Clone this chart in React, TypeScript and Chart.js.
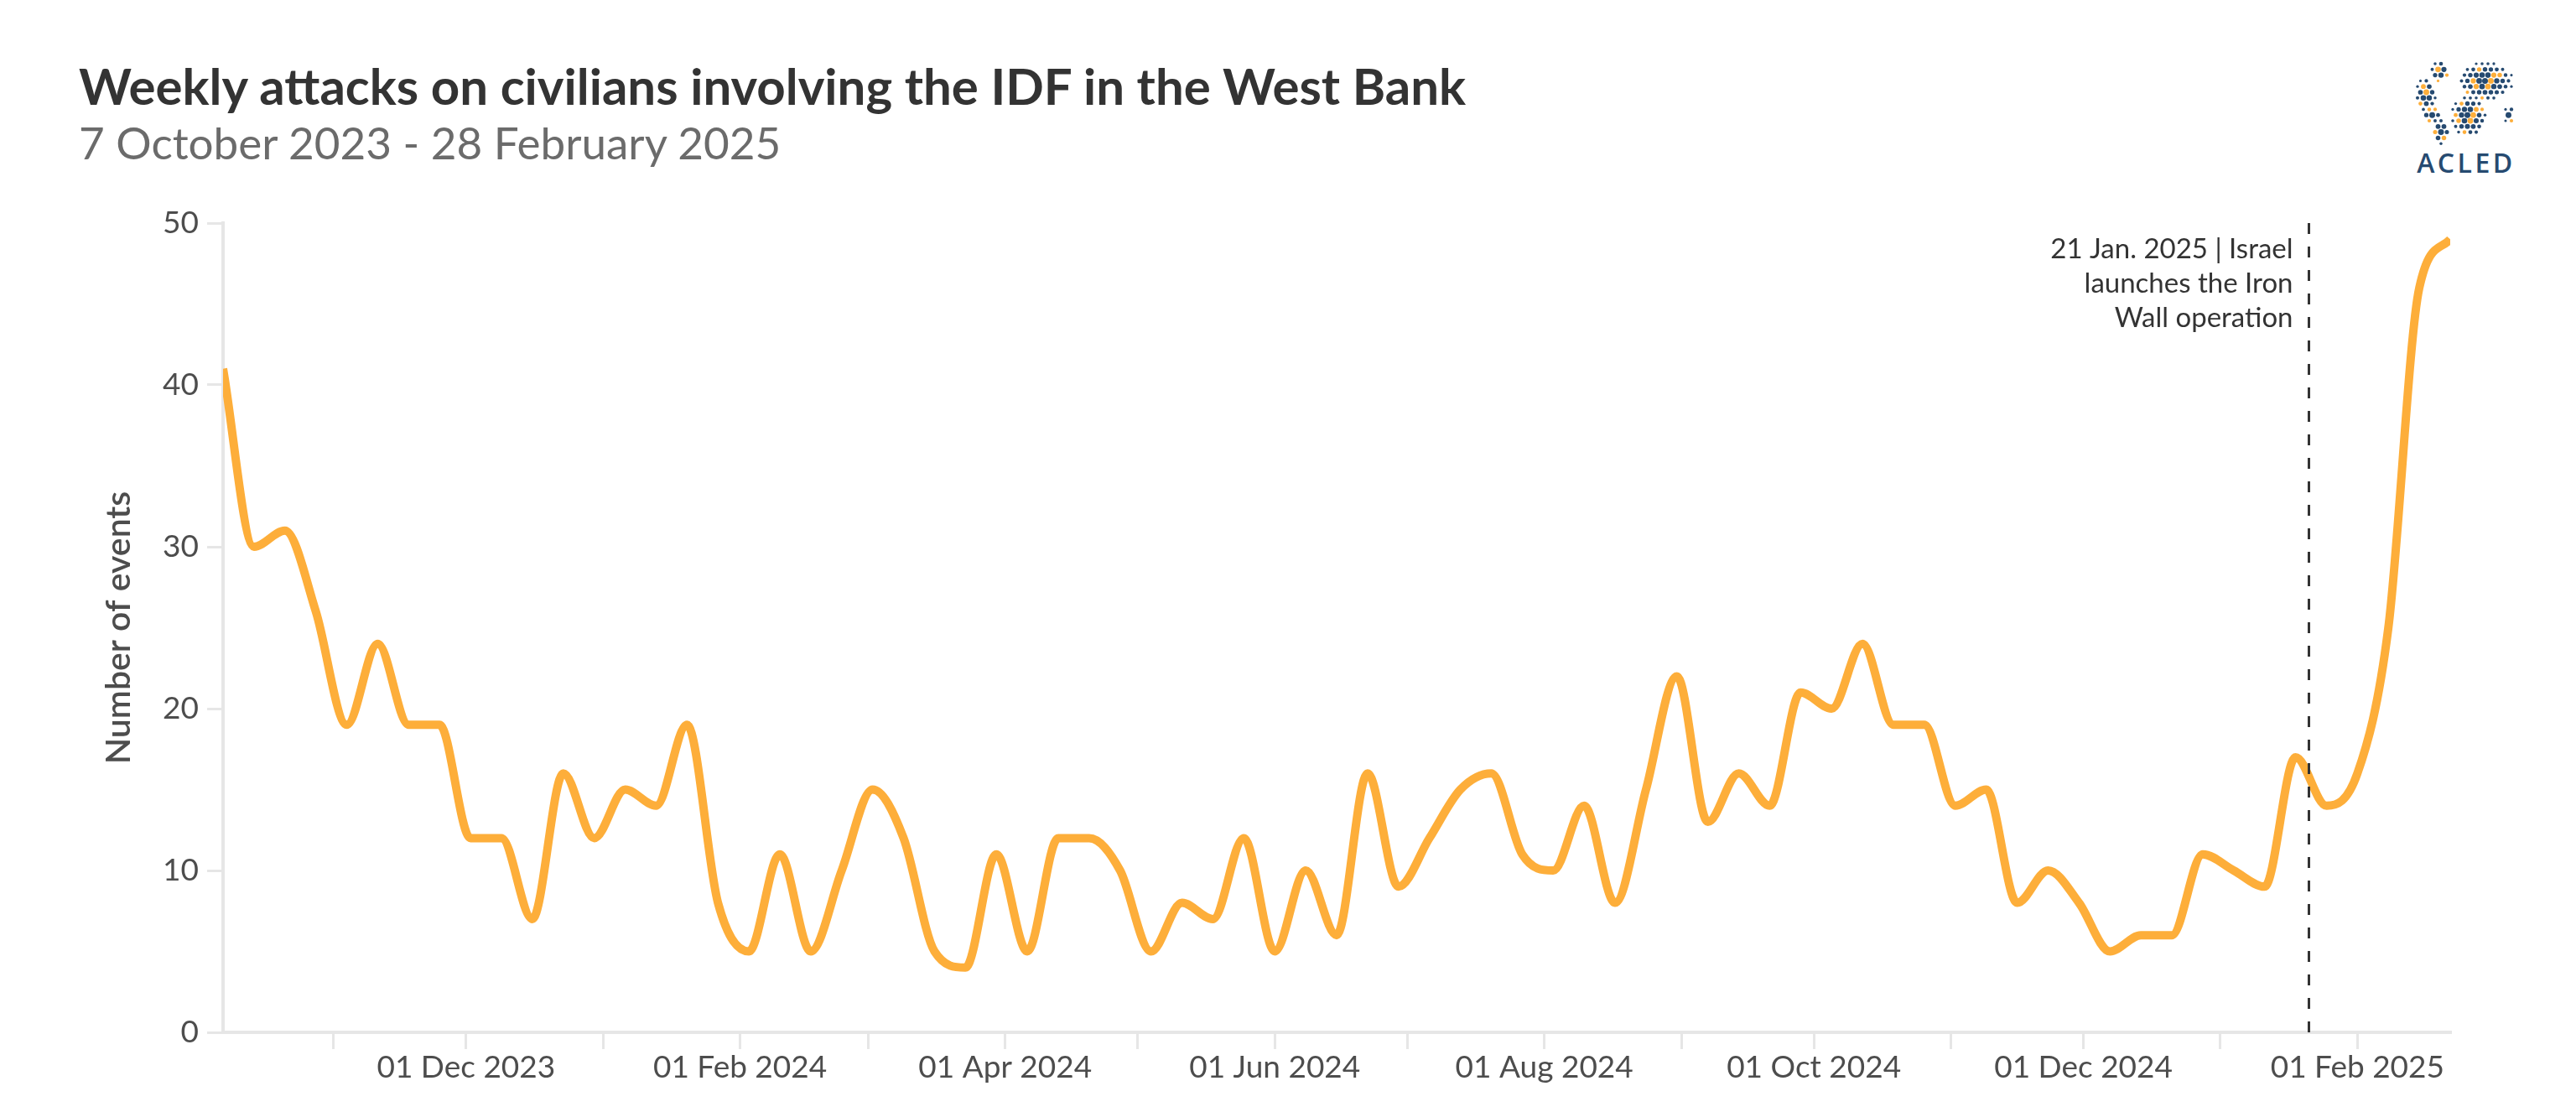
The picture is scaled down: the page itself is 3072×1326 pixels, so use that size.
import React, { useEffect, useRef } from 'react';
import { Chart, registerables } from 'chart.js';

Chart.register(...registerables);

// ---------- data ----------
const weekDates = [
  '2023-10-07', '2023-10-14', '2023-10-21', '2023-10-28', '2023-11-04', '2023-11-11', '2023-11-18', '2023-11-25',
  '2023-12-02', '2023-12-09', '2023-12-16', '2023-12-23', '2023-12-30', '2024-01-06', '2024-01-13', '2024-01-20',
  '2024-01-27', '2024-02-03', '2024-02-10', '2024-02-17', '2024-02-24', '2024-03-02', '2024-03-09', '2024-03-16',
  '2024-03-23', '2024-03-30', '2024-04-06', '2024-04-13', '2024-04-20', '2024-04-27', '2024-05-04', '2024-05-11',
  '2024-05-18', '2024-05-25', '2024-06-01', '2024-06-08', '2024-06-15', '2024-06-22', '2024-06-29', '2024-07-06',
  '2024-07-13', '2024-07-20', '2024-07-27', '2024-08-03', '2024-08-10', '2024-08-17', '2024-08-24', '2024-08-31',
  '2024-09-07', '2024-09-14', '2024-09-21', '2024-09-28', '2024-10-05', '2024-10-12', '2024-10-19', '2024-10-26',
  '2024-11-02', '2024-11-09', '2024-11-16', '2024-11-23', '2024-11-30', '2024-12-07', '2024-12-14', '2024-12-21',
  '2024-12-28', '2025-01-04', '2025-01-11', '2025-01-18', '2025-01-25', '2025-02-01', '2025-02-08', '2025-02-15',
  '2025-02-22',
];

const weeklyEvents = [
  41, 30, 31, 26, 19, 24, 19, 19,
  12, 12, 7, 16, 12, 15, 14, 19,
  8, 5, 11, 5, 10, 15, 12, 5,
  4, 11, 5, 12, 12, 10, 5, 8,
  7, 12, 5, 10, 6, 16, 9, 12,
  15, 16, 11, 10, 14, 8, 15, 22,
  13, 16, 14, 21, 20, 24, 19, 19,
  14, 15, 8, 10, 8, 5, 6, 6,
  11, 10, 9, 17, 14, 16, 25, 46,
  49,
];

const monthTicks = [
  '2023-11-01', '2023-12-01', '2024-01-01', '2024-02-01', '2024-03-01', '2024-04-01', '2024-05-01', '2024-06-01',
  '2024-07-01', '2024-08-01', '2024-09-01', '2024-10-01', '2024-11-01', '2024-12-01', '2025-01-01', '2025-02-01',
];
const monthTickLabels = [
  '', '01 Dec 2023', '', '01 Feb 2024', '', '01 Apr 2024', '', '01 Jun 2024',
  '', '01 Aug 2024', '', '01 Oct 2024', '', '01 Dec 2024', '', '01 Feb 2025',
];
const yTicks = [0, 10, 20, 30, 40, 50];

const eventDate = '2025-01-21';
const eventLabel = ['21 Jan. 2025 | Israel', 'launches the Iron', 'Wall operation'];

const titleText = 'Weekly attacks on civilians involving the IDF in the West Bank';
const subtitleText = '7 October 2023 - 28 February 2025';
const yTitle = 'Number of events';

// ---------- helpers ----------
const toTs = (s: string) => Date.parse(s + 'T00:00:00Z');
const LINE_COLOR = '#FDAE3A';
const AXIS_COLOR = '#e6e6e6';
const TICK_COLOR = '#4d4d4d';
const NAVY = '#264A70';

const eventPlugin = {
  id: 'eventPlugin',
  afterDatasetsDraw(chart: any) {
    const { ctx, chartArea, scales } = chart;
    const x = scales.x;
    const y = scales.y;
    const px = Math.round(x.getPixelForValue(toTs(eventDate))) + 0.5;
    ctx.save();
    ctx.strokeStyle = '#333333';
    ctx.lineWidth = 3;
    ctx.setLineDash([13, 15]);
    ctx.beginPath();
    ctx.moveTo(px, y.getPixelForValue(50));
    ctx.lineTo(px, y.getPixelForValue(0));
    ctx.stroke();
    ctx.setLineDash([]);
    ctx.font = '33px Lato';
    ctx.fillStyle = '#333333';
    ctx.textAlign = 'right';
    ctx.textBaseline = 'alphabetic';
    eventLabel.forEach((t, k) => {
      ctx.fillText(t, px - 19, chartArea.top + 42 + k * 41);
    });
    ctx.restore();
  },
};

// decorative logo: dotted globe silhouette
const logoShapes = [
  { cx: 30, cy: 12, rx: 11, ry: 12 },
  { cx: 13, cy: 40, rx: 12, ry: 20 },
  { cx: 20, cy: 64, rx: 10, ry: 9 },
  { cx: 31, cy: 84, rx: 10, ry: 15 },
  { cx: 84, cy: 24, rx: 33, ry: 23 },
  { cx: 64, cy: 66, rx: 21, ry: 25 },
  { cx: 112, cy: 64, rx: 5, ry: 12 },
];

function Logo() {
  const dots: any[] = [];
  for (let r = 0; r < 15; r++) {
    for (let c = 0; c < 17; c++) {
      const x = 3 + c * 7 + (r % 2) * 3.5;
      const y = 3 + r * 6.8;
      let best = 2;
      logoShapes.forEach((s) => {
        const e = ((x - s.cx) / s.rx) ** 2 + ((y - s.cy) / s.ry) ** 2;
        if (e < best) best = e;
      });
      if (best >= 1) continue;
      const orange = (r * 5 + c * 3) % 7 === 0 || (r * 2 + c) % 9 === 0;
      const rad = 1.5 + 2.0 * (1 - best);
      dots.push(
        <circle key={`${r}-${c}`} cx={x} cy={y} r={rad} fill={orange ? '#FDAE3A' : NAVY} />
      );
    }
  }
  return (
    <div style={{ position: 'absolute', left: 2880, top: 73, width: 118 }}>
      <svg width={118} height={102} viewBox="0 0 118 102">
        {dots}
      </svg>
      <div
        style={{
          position: 'absolute',
          left: 2,
          top: 104.6,
          width: 118,
          textAlign: 'center',
          fontFamily: '"Open Sans", sans-serif',
          fontWeight: 600,
          fontSize: 32,
          lineHeight: '32px',
          letterSpacing: 3.5,
          color: NAVY,
        }}
      >
        ACLED
      </div>
    </div>
  );
}

export default function App() {
  const canvasRef = useRef<HTMLCanvasElement | null>(null);

  useEffect(() => {
    const canvas = canvasRef.current;
    if (!canvas) return;
    const points = weekDates.map((d, i) => ({ x: toTs(d), y: weeklyEvents[i] }));
    const tickFont = { family: 'Lato', size: 37 };
    const chart = new Chart(canvas, {
      type: 'line',
      data: {
        datasets: [
          {
            data: points,
            borderColor: LINE_COLOR,
            borderWidth: 10,
            pointRadius: 0,
            pointHoverRadius: 0,
            fill: false,
            cubicInterpolationMode: 'monotone',
            borderCapStyle: 'butt',
            borderJoinStyle: 'round',
          } as any,
        ],
      },
      options: {
        responsive: false,
        animation: false,
        devicePixelRatio: 1,
        layout: { padding: { top: 266, right: 150, bottom: 0, left: 0 } },
        plugins: {
          legend: { display: false },
          tooltip: { enabled: false },
          title: { display: false },
        },
        scales: {
          x: {
            type: 'linear',
            min: toTs(weekDates[0]),
            max: toTs(weekDates[weekDates.length - 1]),
            afterFit: (s: any) => {
              s.height = 95;
            },
            afterBuildTicks: (s: any) => {
              s.ticks = monthTicks.map((m) => ({ value: toTs(m) }));
            },
            ticks: {
              autoSkip: false,
              maxRotation: 0,
              minRotation: 0,
              padding: 0,
              color: TICK_COLOR,
              font: tickFont,
              callback: (v: any) => {
                const idx = monthTicks.findIndex((m) => toTs(m) === v);
                return idx >= 0 ? monthTickLabels[idx] : '';
              },
            },
            grid: {
              drawOnChartArea: false,
              drawTicks: true,
              tickLength: 20,
              color: AXIS_COLOR,
              lineWidth: 3,
            },
            border: { display: true, color: AXIS_COLOR, width: 4 },
          },
          y: {
            type: 'linear',
            min: 0,
            max: 50,
            afterFit: (s: any) => {
              s.width = 266;
            },
            afterBuildTicks: (s: any) => {
              s.ticks = yTicks.map((v) => ({ value: v }));
            },
            ticks: {
              padding: 10,
              color: TICK_COLOR,
              font: tickFont,
            },
            grid: {
              drawOnChartArea: false,
              drawTicks: true,
              tickLength: 19,
              color: AXIS_COLOR,
              lineWidth: 3,
            },
            border: { display: true, color: AXIS_COLOR, width: 4 },
            title: {
              display: true,
              text: yTitle,
              color: '#4d4d4d',
              font: { family: 'Lato', size: 41, weight: '600' },
              padding: { top: 117, bottom: 0 },
            },
          },
        },
      } as any,
      plugins: [eventPlugin],
    });
    return () => chart.destroy();
  }, []);

  return (
    <div
      style={{
        position: 'absolute',
        left: 0,
        top: 0,
        width: 3072,
        height: 1326,
        background: '#ffffff',
        overflow: 'hidden',
      }}
    >
      <div
        style={{
          position: 'absolute',
          left: 94,
          top: 72,
          fontFamily: 'Lato, sans-serif',
          fontWeight: 700,
          fontSize: 60,
          lineHeight: '60px',
          color: '#333333',
          whiteSpace: 'nowrap',
        }}
      >
        {titleText}
      </div>
      <div
        style={{
          position: 'absolute',
          left: 94,
          top: 143,
          fontFamily: 'Lato, sans-serif',
          fontWeight: 400,
          fontSize: 53,
          lineHeight: '53px',
          color: '#6b6b6b',
          whiteSpace: 'nowrap',
        }}
      >
        {subtitleText}
      </div>
      <Logo />
      <canvas
        ref={canvasRef}
        width={3072}
        height={1326}
        style={{ position: 'absolute', left: 0, top: 0, width: 3072, height: 1326 }}
      />
    </div>
  );
}
